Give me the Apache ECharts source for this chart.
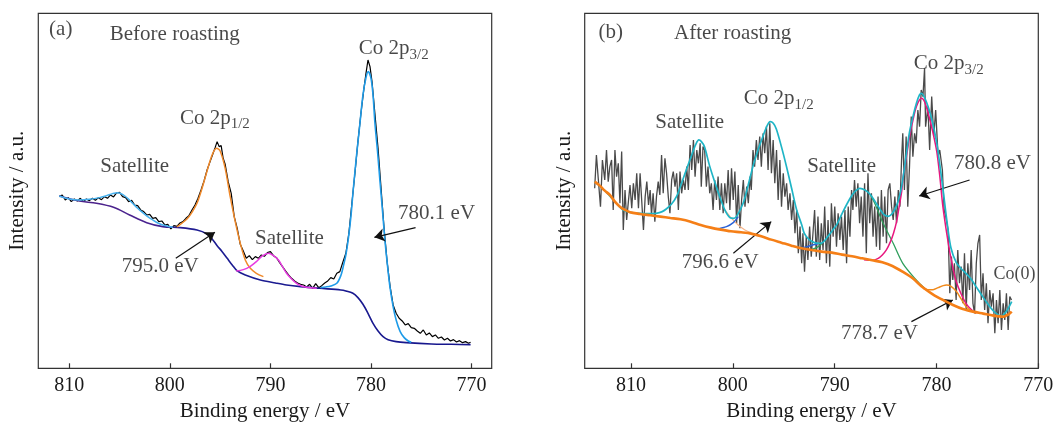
<!DOCTYPE html>
<html><head><meta charset="utf-8">
<script src="https://cdn.jsdelivr.net/npm/echarts@6/dist/echarts.min.js"></script>
<style>html,body{margin:0;padding:0;background:#fff}#c{width:1057px;height:424px}</style>
</head><body><div id="c"></div>
<script>
const FONT = "'Liberation Serif','Times New Roman',serif";
const TXT = '#1a1a1a';
const ticksX = [770, 780, 790, 800, 810];

// ---------- Panel (a): before roasting ----------
const rawA = [[811.0,515],[810.7,520],[810.4,505],[810.1,512],[809.8,500],[809.5,508],[809.2,502],[808.9,510],[808.6,500],[808.3,508],[808.0,503],[807.7,510],[807.4,504],[807.1,512],[806.8,506],[806.5,515],[806.2,510],[805.9,520],[805.6,514],[805.3,526],[805.0,528],[804.7,515],[804.4,512],[804.1,500],[803.8,504],[803.5,490],[803.2,488],[802.9,475],[802.6,470],[802.3,460],[802.0,462],[801.7,450],[801.4,452],[801.1,440],[800.8,442],[800.5,430],[800.2,432],[799.9,418],[799.6,428],[799.3,426],[799.0,436],[798.7,440],[798.4,450],[798.1,458],[797.8,475],[797.5,490],[797.2,510],[796.9,535],[796.6,562],[796.3,595],[796.0,620],[795.7,645],[795.5,662],[795.3,680],[795.1,665],[794.9,668],[794.7,630],[794.5,612],[794.2,560],[793.9,525],[793.6,455],[793.3,420],[793.0,372],[792.7,352],[792.4,330],[792.1,338],[791.8,326],[791.5,335],[791.2,330],[790.9,340],[790.6,336],[790.3,347],[790.0,350],[789.7,338],[789.4,332],[789.1,318],[788.8,305],[788.5,292],[788.2,280],[787.9,270],[787.6,262],[787.3,256],[787.0,252],[786.7,250],[786.4,244],[786.1,252],[785.8,240],[785.5,254],[785.2,242],[784.9,248],[784.6,256],[784.3,262],[784.0,272],[783.7,268],[783.4,285],[783.1,290],[782.8,318],[782.5,345],[782.2,405],[781.9,495],[781.6,585],[781.3,680],[781.0,765],[780.7,840],[780.5,885],[780.3,925],[780.1,905],[779.9,860],[779.6,760],[779.3,660],[779.0,540],[778.7,420],[778.4,320],[778.1,245],[777.8,190],[777.5,165],[777.2,150],[776.9,142],[776.6,130],[776.3,134],[776.0,122],[775.7,120],[775.4,112],[775.1,105],[774.8,115],[774.5,100],[774.2,106],[773.9,95],[773.6,100],[773.3,90],[773.0,94],[772.7,85],[772.4,90],[772.1,82],[771.8,86],[771.5,79],[771.2,83],[770.9,77],[770.6,80],[770.3,75],[770.1,78]];
const bgA = [[811.0,517],[809.0,502],[807.3,495],[805.6,483],[804.0,460],[802.3,437],[800.7,425],[799.0,422],[797.3,415],[796.3,403],[795.8,388],[795.3,368],[794.8,350],[794.3,330],[793.8,310],[793.3,292],[792.5,280],[791.0,265],[789.5,256],[788.4,250],[787.0,245],[785.1,240],[783.0,235],[782.5,232],[781.8,225],[781.3,212],[780.8,192],[780.3,165],[779.8,135],[779.3,112],[778.8,95],[778.3,86],[777.5,80],[776.5,77],[774.0,73],[772.0,72],[770.1,71]];
const satA1 = [[811.0,517],[810.0,508],[809.0,505],[808.0,507],[807.0,512],[806.3,518],[805.7,524],[805.2,527],[804.7,522],[804.2,510],[803.7,495],[803.2,480],[802.7,467],[802.2,455],[801.7,445],[801.2,436],[800.7,430],[800.2,426],[799.7,423]];
const p12A = [[799.3,424],[798.3,448],[797.8,468],[797.3,495],[796.8,540],[796.3,592],[795.8,640],[795.35,660],[795.0,652],[794.5,600],[794.0,515],[793.5,440],[793.0,375],[792.5,325],[792.0,300],[791.4,285],[790.7,275]];
const satA2 = [[793.4,292],[792.7,296],[792.0,306],[791.4,320],[790.8,337],[790.2,345],[789.7,338],[789.2,325],[788.8,305],[788.4,285],[787.9,268],[787.4,255],[786.9,247],[786.4,243],[785.4,240]];
const p32A = [[785.0,242],[784.5,244],[784.0,247],[783.4,255],[783.0,278],[782.76,305],[782.5,340],[782.27,385],[782.0,455],[781.77,535],[781.4,650],[781.1,735],[780.8,820],[780.5,872],[780.28,890],[780.0,870],[779.8,820],[779.61,735],[779.35,650],[779.12,565],[778.85,470],[778.62,385],[778.35,305],[778.12,245],[777.8,185],[777.5,145],[777.1,110],[776.7,92],[776.3,82],[776.0,78]];
const annotA = [[810.85,1017,'(a)'],[799.51,1000,'Before roasting'],[777.74,959,'Co 2p','3/2'],[795.52,750,'Co 2p','1/2'],[803.50,605,'Satellite'],[788.11,388,'Satellite'],[800.96,305,'795.0 eV'],[773.48,465,'780.1 eV']];
const arrowsA = [[799.41,330,795.52,408],[775.57,422,779.66,393]];

// ---------- Panel (b): after roasting ----------
const rawB = [[813.57,540],[813.40,640],[813.17,550],[813.00,485],[812.81,625],[812.58,565],[812.41,655],[812.24,560],[812.08,605],[811.91,625],[811.75,475],[811.58,655],[811.42,575],[811.25,615],[811.09,495],[810.92,650],[810.76,415],[810.59,535],[810.43,445],[810.26,500],[810.10,550],[809.93,480],[809.77,555],[809.60,505],[809.44,585],[809.27,480],[809.11,585],[808.94,590],[808.78,415],[808.61,515],[808.45,560],[808.28,490],[808.12,535],[807.99,460],[807.83,525],[807.66,440],[807.50,515],[807.33,560],[807.17,520],[807.00,640],[806.84,525],[806.67,630],[806.51,585],[806.34,515],[806.18,465],[806.01,565],[805.85,590],[805.68,545],[805.52,585],[805.35,475],[805.19,590],[805.03,525],[804.86,565],[804.70,535],[804.53,605],[804.37,535],[804.20,670],[804.04,595],[803.87,685],[803.71,575],[803.54,655],[803.38,615],[803.21,675],[803.10,545],[802.93,665],
[802.77,655],[802.60,545],[802.44,605],[802.27,525],[802.11,555],[801.94,475],[801.78,565],[801.61,505],[801.45,575],[801.28,475],[801.12,555],[800.95,465],[800.79,555],[800.62,495],[800.46,595],[800.29,475],[800.13,600],[799.96,505],[799.80,590],[799.63,435],[799.47,550],[799.30,420],[799.14,505],[798.97,565],[798.81,485],[798.64,545],[798.48,495],[798.31,575],[798.19,535],[798.02,655],[797.86,605],[797.69,685],[797.53,625],[797.36,695],[797.20,605],[797.03,705],[796.87,645],[796.70,725],[796.54,595],[796.37,735],[796.21,585],[796.04,685],[795.88,555],[795.71,655],[795.55,505],[795.38,625],[795.22,485],[795.05,585],[794.89,515],[794.72,555],[794.57,475],[794.39,525],[794.23,445],[794.06,505],[793.90,405],[793.73,475],[793.57,345],[793.40,425],[793.24,315],[793.12,405],[792.96,290],[792.79,395],[792.63,325],[792.46,425],[792.30,335],[792.13,405],
[791.97,475],[791.80,335],[791.64,455],[791.47,325],[791.31,435],[791.14,355],[790.98,485],[790.81,315],[790.65,445],[790.48,305],[790.32,495],[790.15,395],[789.99,485],[789.82,365],[789.66,465],[789.49,385],[789.33,455],[789.16,355],[788.99,475],[788.83,315],[788.67,485],[788.50,395],[788.34,535],[788.21,475],[788.05,565],[787.88,485],[787.72,555],[787.55,435],[787.39,515],[787.22,395],[787.06,555],[786.89,345],[786.73,585],[786.56,435],[786.39,525],[786.23,395],[786.07,485],[785.90,365],[785.74,515],[785.57,355],[785.41,535],[785.24,395],[785.08,515],[784.91,375],[784.75,535],[784.58,555],[784.41,485],[784.25,445],[784.09,515],[783.92,435],[783.75,535],[783.59,485],[783.43,625],[783.31,705],[783.15,535],[782.98,695],[782.82,485],[782.65,605],[782.48,755],[782.32,635],[782.15,705],[781.99,675],[781.83,775],[781.66,725],[781.50,835],[781.33,815],[781.17,900],
[781.07,725],[780.84,785],[780.67,655],[780.47,815],[780.27,695],[780.08,775],[779.84,635],[779.68,655],[779.42,595],[779.25,475],[779.09,455],
[778.86,415],[778.69,225],[778.53,335],[778.40,265],[778.24,315],[778.07,205],[777.91,355],[777.74,255],[777.58,305],[777.41,195],[777.25,345],[777.08,175],[776.92,315],[776.75,235],[776.59,355],[776.42,195],[776.26,165],[776.09,315],[775.93,375],[775.76,400],[775.60,205],[775.43,285],[775.27,175],[775.10,255],[774.94,135],[774.77,235],[774.61,185],[774.44,225],[774.27,105],[774.11,205],[773.95,135],[773.78,235],[773.62,115],[773.45,195],[773.29,145],[773.13,225],[772.96,115],[772.80,215],[772.63,205]];
const bgB = [[813.57,560],[813.07,548],[812.58,533],[812.08,520],[811.59,500],[811.09,485],[810.59,475],[810.10,468],[809.11,463],[808.12,459],[807.12,455],[806.13,451],[805.14,447],[804.15,440],[803.16,430],[802.17,422],[801.18,416],[800.19,411],[799.19,408],[798.20,404],[797.21,396],[796.22,386],[795.23,377],[794.24,368],[793.25,360],[792.26,355],[791.27,350],[790.27,347],[789.28,341],[788.29,336],[787.30,330],[786.31,324],[785.32,318],[784.33,307],[783.34,290],[782.34,270],[781.35,243],[780.36,222],[779.37,205],[778.38,190],[777.41,178],[776.41,170],[775.41,164],[774.41,158],[773.41,155],[772.91,162],[772.61,170]];
const envB = [[813.57,560],[812.58,533],[811.59,500],[810.79,475],[810.10,468],[809.11,465],[808.12,464],[807.54,465],[806.94,470],[806.54,478],[806.04,492],[805.54,515],[805.04,555],[804.54,598],[804.04,640],[803.64,672],[803.34,685],[803.09,680],[802.79,665],[802.29,608],[801.79,560],[801.29,515],[800.79,475],[800.29,452],[799.89,450],[799.59,458],[798.99,495],[798.49,550],[798.03,605],[797.53,655],[797.03,697],[796.63,728],[796.33,740],[796.03,735],[795.73,718],[795.23,665],[794.73,605],[794.23,540],[793.73,475],[793.23,430],[792.98,405],[792.48,385],[791.98,377],[791.48,375],[791.18,377],[790.68,395],[790.18,415],[789.78,432],[789.18,470],[788.48,510],[788.02,530],[787.52,540],[787.02,535],[786.52,522],[786.02,500],[785.52,476],[785.12,460],[784.72,456],[784.32,465],[783.92,488],[783.52,530],[783.27,575],[782.97,640],[782.67,705],[782.27,760],[781.97,795],[781.67,820],[781.47,825],[781.17,812],[780.77,780],[780.37,735],[779.97,675],[779.67,610],[779.37,540],[778.97,440],[778.57,360],[778.07,318],[777.61,300],[777.11,285],[776.61,268],[776.11,245],[775.61,222],[775.01,195],[774.41,172],[773.91,160],[773.61,157],[773.11,172],[772.61,200]];
const p32B = [[787.12,326],[786.32,324],[785.72,330],[785.32,340],[784.92,355],[784.52,380],[784.22,405],[783.92,440],[783.72,475],[783.42,530],[783.27,575],[782.97,630],[782.67,690],[782.27,750],[781.97,785],[781.67,805],[781.47,810],[781.17,800],[780.77,760],[780.37,710],[779.97,650],[779.67,575],[779.37,485],[778.97,400],[778.67,345],[778.37,300],[778.11,265],[777.61,225],[777.11,195],[776.61,177],[776.11,165]];
const satB2 = [[786.52,522],[786.07,495],[785.24,435],[784.25,375],[783.31,315],[781.99,265],[781.17,240]];
const satB2tail = [[792.28,356],[791.78,362],[791.28,372]];
const p12Btail = [[801.61,418],[800.62,425],[799.96,437],[799.47,455]];
const p12Btail2 = [[793.28,362],[792.68,365],[792.18,370],[791.68,373]];
const satB1tail = [[800.79,475],[800.13,450],[799.47,430],[798.81,415],[798.19,407]];
const co0B = [[781.33,240],[780.84,236],[780.34,236],[779.84,242],[779.34,248],[779.02,250],[778.57,246],[778.03,230],[777.58,208],[777.08,185],[776.58,172],[776.09,165]];
const annotB = [[812.0,1007,'(b)'],[800.02,1005,'After roasting'],[778.79,913,'Co 2p','3/2'],[795.50,808,'Co 2p','1/2'],[804.24,737,'Satellite'],[789.32,605,'Satellite'],[774.51,615,'780.8 eV'],[801.24,317,'796.6 eV'],[785.60,105,'778.7 eV'],[772.33,283,'Co(0)','','c']];
const arrowsB = [[799.95,345,796.23,440],[776.75,565,781.70,517],[782.46,140,778.40,205]];

const chart = echarts.init(document.getElementById('c'), null, {renderer: 'canvas'});

function line(data, color, width, idx, smooth, z) {
  return {type: 'line', data: data, xAxisIndex: idx, yAxisIndex: idx, symbol: 'none', showSymbol: false,
    smooth: smooth, lineStyle: {color: color, width: width}, itemStyle: {color: color},
    animation: false, silent: true, z: z || 2};
}
function annot(list, arrows, idx) {
  return {type: 'scatter', xAxisIndex: idx, yAxisIndex: idx, symbolSize: 1, silent: true, animation: false, z: 10,
    itemStyle: {color: 'rgba(0,0,0,0)'},
    data: list.map(a => ({value: [a[0], a[1]], name: a[2], sub: a[3] || '', key: a[4] || 'a'})),
    label: {show: true, position: 'inside', color: TXT, fontFamily: FONT, fontSize: 21,
      formatter: p => '{' + p.data.key + '|' + p.data.name + '}' + (p.data.sub ? '{s|' + p.data.sub + '}' : ''),
      rich: {a: {fontSize: 21, fontFamily: FONT, color: TXT},
             c: {fontSize: 18, fontFamily: FONT, color: TXT},
             s: {fontSize: 15, fontFamily: FONT, color: TXT, padding: [12, 0, 0, 0]}}},
    markLine: {silent: true, animation: false, symbol: ['none', 'arrow'], symbolSize: 10,
      lineStyle: {color: '#111', width: 1.2, type: 'solid'}, itemStyle: {color: '#111'}, label: {show: false},
      emphasis: {disabled: true},
      data: arrows.map(a => [{coord: [a[0], a[1]]}, {coord: [a[2], a[3]]}])}
  };
}
function xAx(idx, min, max) {
  return {gridIndex: idx, type: 'value', min: min, max: max, inverse: true,
    name: 'Binding energy / eV', nameLocation: 'middle', nameGap: 33,
    nameTextStyle: {fontFamily: FONT, fontSize: 21, color: TXT},
    axisLine: {show: false}, splitLine: {show: false},
    axisTick: {show: true, inside: true, length: 5, customValues: ticksX, lineStyle: {color: '#333', width: 1.2}},
    axisLabel: {show: true, margin: 7, fontFamily: FONT, fontSize: 20, color: TXT, customValues: ticksX}};
}
function yAx(idx) {
  return {gridIndex: idx, type: 'value', min: 0, max: 1065,
    name: 'Intensity / a.u.', nameLocation: 'middle', nameGap: 10,
    nameTextStyle: {fontFamily: FONT, fontSize: 21, color: TXT},
    axisLine: {show: false}, axisTick: {show: false}, axisLabel: {show: false}, splitLine: {show: false}};
}
const bgGrad = new echarts.graphic.LinearGradient(0, 0, 1, 0, [
  {offset: 0, color: '#4e2388'}, {offset: 0.22, color: '#4a2390'}, {offset: 0.34, color: '#1c1c92'}, {offset: 1, color: '#16168c'}]);

chart.setOption({
  backgroundColor: '#fff',
  animation: false,
  grid: [
    {left: 38.3, top: 13.3, width: 453.4, height: 355, show: true, borderColor: '#333', borderWidth: 1.2, backgroundColor: 'transparent', outerBoundsMode: 'none'},
    {left: 584.7, top: 13.3, width: 453.6, height: 355, show: true, borderColor: '#333', borderWidth: 1.2, backgroundColor: 'transparent', outerBoundsMode: 'none'}
  ],
  xAxis: [xAx(0, 768, 813.08), xAx(1, 770, 814.55)],
  yAxis: [yAx(0), yAx(1)],
  series: [
    line(rawA, '#000000', 1.2, 0, false, 3),
    line(bgA, bgGrad, 1.6, 0, 0.3, 4),
    line(satA1, '#45b0ee', 1.5, 0, 0.3, 4),
    line(p12A, '#f0892a', 1.5, 0, 0.3, 4),
    line(satA2, '#e83be0', 1.5, 0, 0.3, 4),
    line(p32A, '#1e9be8', 1.6, 0, 0.3, 4),
    annot(annotA, arrowsA, 0),
    line(rawB, '#4a4a4a', 1.3, 1, false, 3),
    line(satB1tail, '#f6b58a', 1.2, 1, 0.3, 4),
    line(p12Btail, '#2a62d8', 1.4, 1, 0.3, 4),
    line(p12Btail2, '#2a62d8', 1.4, 1, 0.3, 4),
    line(satB2tail, '#2f9e5c', 1.2, 1, 0.3, 4),
    line(satB2, '#2f9e5c', 1.3, 1, 0.3, 4),
    line(p32B, '#e8177f', 1.5, 1, 0.3, 4),
    line(co0B, '#f08a1c', 1.5, 1, 0.3, 4),
    line(envB, '#1fb5c6', 1.7, 1, 0.3, 5),
    line(bgB, '#f57f17', 2.6, 1, 0.3, 6),
    annot(annotB, arrowsB, 1)
  ]
});
</script></body></html>
